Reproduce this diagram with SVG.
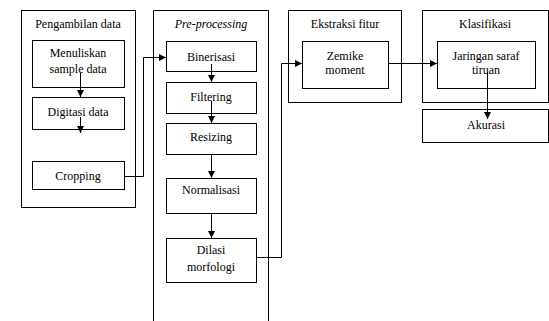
<svg xmlns="http://www.w3.org/2000/svg" width="549" height="321" viewBox="0 0 549 321">
<defs>
<style>
.box{fill:#fff;stroke:#000;stroke-width:1}
.c{fill:none;stroke:#000;stroke-width:1}
</style>
<marker id="ah" viewBox="0 0 10 10" refX="10" refY="5" markerWidth="7" markerHeight="7" markerUnits="userSpaceOnUse" orient="auto">
<path d="M0,0 L10,5 L0,10 z" fill="#000"/>
</marker>
</defs>
<rect width="549" height="321" fill="#fff"/>
<g font-family="Liberation Serif, DejaVu Serif, serif" font-size="12" text-anchor="middle" fill="#000">
<g id="pengambilan">
<rect class="box" x="21.5" y="10.5" width="114" height="197"/>
<text x="78" y="28">Pengambilan data</text>
</g>
<g id="menuliskan">
<rect class="box" x="32.5" y="40.5" width="92" height="47"/>
<text x="78" y="57">Menuliskan</text>
<text x="78" y="73">sample data</text>
</g>
<g id="digitasi">
<rect class="box" x="32.5" y="97.5" width="92" height="32"/>
<text x="78" y="116">Digitasi data</text>
</g>
<g id="cropping">
<rect class="box" x="32.5" y="161.5" width="92" height="28"/>
<text x="78" y="180">Cropping</text>
</g>
<g id="preprocessing">
<path class="c" d="M153.5,321 V10.5 H268.5 V321"/>
<text x="211" y="28" font-style="italic">Pre-processing</text>
</g>
<g id="binerisasi">
<rect class="box" x="166.5" y="41.5" width="90" height="30"/>
<text x="211" y="61">Binerisasi</text>
</g>
<g id="filtering">
<rect class="box" x="166.5" y="82.5" width="90" height="31"/>
<text x="211" y="101">Filtering</text>
</g>
<g id="resizing">
<rect class="box" x="166.5" y="123.5" width="90" height="31"/>
<text x="211" y="141">Resizing</text>
</g>
<g id="normalisasi">
<rect class="box" x="166.5" y="178.5" width="90" height="35"/>
<text x="211" y="194">Normalisasi</text>
</g>
<g id="dilasi">
<rect class="box" x="166.5" y="238.5" width="90" height="44"/>
<text x="211" y="254">Dilasi</text>
<text x="211" y="271">morfologi</text>
</g>
<g id="ekstraksi">
<rect class="box" x="288.5" y="10.5" width="113" height="92"/>
<text x="345" y="28">Ekstraksi fitur</text>
</g>
<g id="zernike">
<rect class="box" x="302.5" y="41.5" width="86" height="47"/>
<text x="345" y="60">Zemike</text>
<text x="345" y="74">moment</text>
</g>
<g id="klasifikasi">
<rect class="box" x="422.5" y="10.5" width="126" height="92"/>
<text x="485" y="28">Klasifikasi</text>
</g>
<g id="jaringan">
<rect class="box" x="437.5" y="41.5" width="98" height="47"/>
<text x="486" y="60">Jaringan saraf</text>
<text x="486" y="74">tiruan</text>
</g>
<g id="akurasi">
<rect class="box" x="422.5" y="109.5" width="126" height="33"/>
<text x="486" y="129">Akurasi</text>
</g>
</g>
<g id="connectors">
<path class="c" d="M80.5,73 V97" marker-end="url(#ah)"/>
<path class="c" d="M80.5,117 V133" marker-end="url(#ah)"/>
<path class="c" d="M125,176.5 H143.5 V57.5 H166" marker-end="url(#ah)"/>
<path class="c" d="M211.5,64 V82" marker-end="url(#ah)"/>
<path class="c" d="M211.5,101 V123" marker-end="url(#ah)"/>
<path class="c" d="M211.5,155 V178" marker-end="url(#ah)"/>
<path class="c" d="M211.5,214 V238" marker-end="url(#ah)"/>
<path class="c" d="M257,257.5 H281.5 V63.5 H302" marker-end="url(#ah)"/>
<path class="c" d="M389,63.5 H437" marker-end="url(#ah)"/>
<path class="c" d="M487.5,72 V119" marker-end="url(#ah)"/>
</g>
</svg>
